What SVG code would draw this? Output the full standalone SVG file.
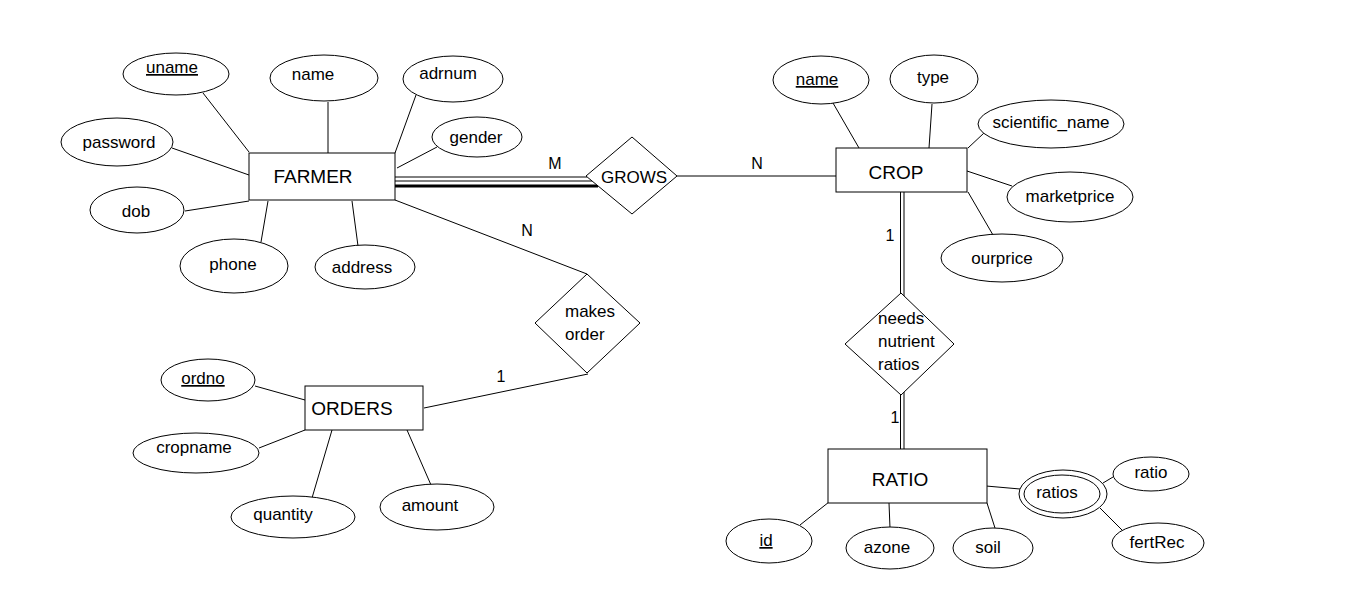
<svg xmlns="http://www.w3.org/2000/svg" width="1355" height="599" viewBox="0 0 1355 599">
<style>
text{font-family:"Liberation Sans",Arial,sans-serif;fill:#000}
.a{font-size:17px;text-anchor:middle}
.e{font-size:19px;text-anchor:middle}
.l{font-size:16px;text-anchor:middle}
.r{font-size:17px}
.u{text-decoration:underline}
ellipse,rect,polygon{fill:#fff;stroke:#000;stroke-width:1}
line{stroke:#000;stroke-width:1}
rect.bg{stroke:none}
</style>
<rect class="bg" width="1355" height="599"/>
<g id="connectors">
<line x1="203" y1="93" x2="249" y2="152"/>
<line x1="328" y1="102" x2="328" y2="153"/>
<line x1="416" y1="95" x2="395" y2="153"/>
<line x1="437" y1="147" x2="397" y2="168"/>
<line x1="172" y1="148" x2="249" y2="175"/>
<line x1="185" y1="211" x2="249" y2="201"/>
<line x1="261" y1="242" x2="268" y2="201"/>
<line x1="358" y1="246" x2="352" y2="201"/>
<line x1="395" y1="200" x2="587" y2="274"/>
<line x1="395" y1="177" x2="587" y2="177"/>
<line x1="395" y1="181" x2="592" y2="181"/>
<line x1="395" y1="186" x2="598" y2="186" style="stroke-width:3"/>
<line x1="677" y1="176" x2="836" y2="176"/>
<line x1="833" y1="103" x2="859" y2="148"/>
<line x1="932" y1="104" x2="929" y2="148"/>
<line x1="984" y1="133" x2="968" y2="148"/>
<line x1="967" y1="171" x2="1012" y2="186"/>
<line x1="968" y1="192" x2="993" y2="235"/>
<line x1="900.5" y1="192" x2="900.5" y2="294"/>
<line x1="904" y1="192" x2="904" y2="297"/>
<line x1="900.5" y1="395" x2="900.5" y2="449"/>
<line x1="904" y1="392" x2="904" y2="449"/>
<line x1="800" y1="525" x2="829" y2="502"/>
<line x1="890" y1="528" x2="889" y2="503"/>
<line x1="995" y1="528" x2="987" y2="503"/>
<line x1="986" y1="486" x2="1020" y2="489"/>
<line x1="1103" y1="483" x2="1113" y2="477"/>
<line x1="1100" y1="508" x2="1122" y2="530"/>
<line x1="255" y1="386" x2="305" y2="400"/>
<line x1="259" y1="448" x2="305" y2="430"/>
<line x1="312" y1="498" x2="332" y2="430"/>
<line x1="431" y1="485" x2="407" y2="430"/>
<line x1="424" y1="408" x2="588" y2="374"/>
</g>
<g id="labels">
<text class="l" x="555" y="169">M</text>
<text class="l" x="757" y="169">N</text>
<text class="l" x="527" y="236">N</text>
<text class="l" x="501" y="382">1</text>
<text class="l" x="890" y="241">1</text>
<text class="l" x="895" y="423">1</text>
</g>
<g id="farmer"><rect x="249" y="153" width="146" height="47"/><text class="e" x="313" y="183">FARMER</text></g>
<g id="farmer-uname"><ellipse cx="176" cy="74" rx="53" ry="21"/><text class="a u" x="172" y="73">uname</text></g>
<g id="farmer-name"><ellipse cx="324" cy="78" rx="54" ry="23"/><text class="a" x="313" y="80">name</text></g>
<g id="farmer-adrnum"><ellipse cx="453" cy="79" rx="50" ry="23"/><text class="a" x="448" y="79">adrnum</text></g>
<g id="farmer-gender"><ellipse cx="477" cy="137" rx="45" ry="20"/><text class="a" x="476" y="143">gender</text></g>
<g id="farmer-password"><ellipse cx="117" cy="142" rx="56" ry="24"/><text class="a" x="119" y="148">password</text></g>
<g id="farmer-dob"><ellipse cx="137" cy="210" rx="47" ry="23"/><text class="a" x="136" y="217">dob</text></g>
<g id="farmer-phone"><ellipse cx="234" cy="266" rx="54" ry="27"/><text class="a" x="233" y="270">phone</text></g>
<g id="farmer-address"><ellipse cx="365" cy="267" rx="50" ry="22"/><text class="a" x="362" y="273">address</text></g>
<g id="grows"><polygon points="586,176 632,137 677,176 632,214"/><text class="a" x="634" y="183">GROWS</text></g>
<g id="makes-order"><polygon points="535,323 587,274 640,323 587,373"/><text class="r" x="565" y="317">makes</text><text class="r" x="565" y="340">order</text></g>
<g id="crop"><rect x="836" y="148" width="131" height="44"/><text class="e" x="896" y="179">CROP</text></g>
<g id="crop-name"><ellipse cx="821" cy="80" rx="48" ry="24"/><text class="a u" x="817" y="85">name</text></g>
<g id="crop-type"><ellipse cx="934" cy="79" rx="44" ry="24"/><text class="a" x="933" y="83">type</text></g>
<g id="crop-scientific"><ellipse cx="1051" cy="124" rx="73" ry="24"/><text class="a" x="1051" y="128">scientific_name</text></g>
<g id="crop-marketprice"><ellipse cx="1070" cy="197" rx="63" ry="25"/><text class="a" x="1070" y="202">marketprice</text></g>
<g id="crop-ourprice"><ellipse cx="1002" cy="258" rx="61" ry="24"/><text class="a" x="1002" y="264">ourprice</text></g>
<g id="needs"><polygon points="845,344 901,293 954,344 901,395"/><text class="r" x="878" y="324">needs</text><text class="r" x="878" y="347">nutrient</text><text class="r" x="878" y="370">ratios</text></g>
<g id="ratio"><rect x="828" y="449" width="159" height="54"/><text class="e" x="900" y="486">RATIO</text></g>
<g id="ratio-id"><ellipse cx="769" cy="541" rx="43" ry="22"/><text class="a u" x="766" y="546">id</text></g>
<g id="ratio-azone"><ellipse cx="890" cy="548" rx="44" ry="21"/><text class="a" x="887" y="553">azone</text></g>
<g id="ratio-soil"><ellipse cx="993" cy="548" rx="40" ry="20"/><text class="a" x="988" y="553">soil</text></g>
<g id="ratio-ratios"><ellipse cx="1063" cy="494" rx="44" ry="24"/><ellipse cx="1062" cy="494" rx="38" ry="19"/><text class="a" x="1057" y="498">ratios</text></g>
<g id="ratios-ratio"><ellipse cx="1151" cy="474" rx="38" ry="17"/><text class="a" x="1151" y="478">ratio</text></g>
<g id="ratios-fertrec"><ellipse cx="1158" cy="543" rx="46" ry="20"/><text class="a" x="1157" y="548">fertRec</text></g>
<g id="orders"><rect x="305" y="386" width="118" height="44"/><text class="e" x="352" y="415">ORDERS</text></g>
<g id="orders-ordno"><ellipse cx="208" cy="380" rx="47" ry="21"/><text class="a u" x="203" y="384">ordno</text></g>
<g id="orders-cropname"><ellipse cx="196" cy="453" rx="63" ry="20"/><text class="a" x="194" y="453">cropname</text></g>
<g id="orders-quantity"><ellipse cx="293" cy="517" rx="62" ry="21"/><text class="a" x="283" y="520">quantity</text></g>
<g id="orders-amount"><ellipse cx="437" cy="507" rx="57" ry="23"/><text class="a" x="430" y="511">amount</text></g>
</svg>
